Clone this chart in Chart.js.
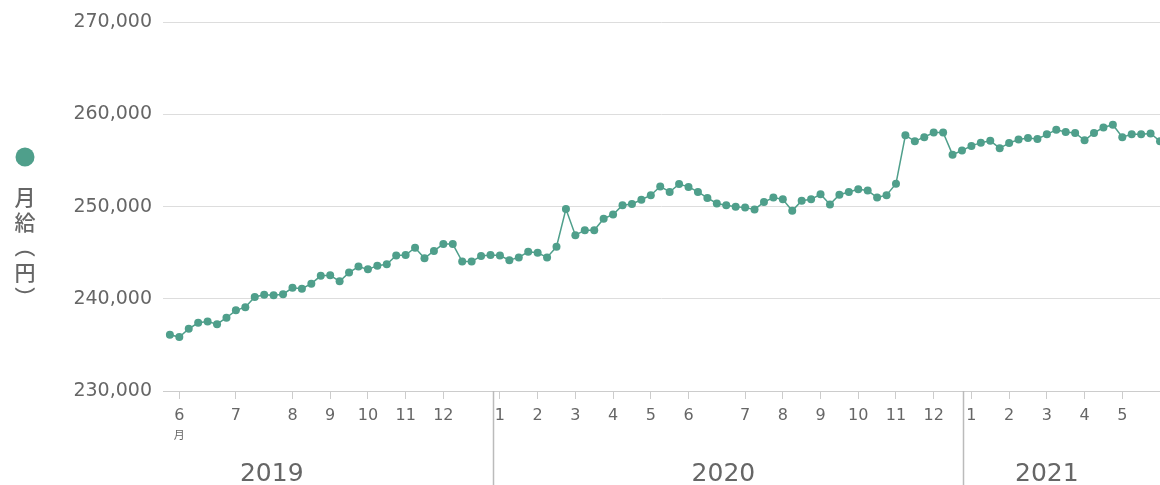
<!DOCTYPE html>
<html>
<head>
<meta charset="utf-8">
<script src="https://cdn.jsdelivr.net/npm/chart.js@4/dist/chart.umd.min.js"></script>
<style>
    html, body { margin: 0; padding: 0; background: #fff; }
    #wrap { width: 1160px; height: 485px; position: relative; }
</style>
</head>
<body>
<div id="wrap"><canvas id="salaryChart"></canvas></div>
<script>
// monthly salary (yen), one value per observation, June 2019 -> mid 2021
const salaryValues = [
    236100, 235850, 236750, 237400, 237550, 237250, 237950, 238750, 239100, 240200,
    240450, 240400, 240500, 241200, 241100, 241650, 242500, 242550, 241900, 242850,
    243500, 243200, 243600, 243750, 244700, 244750, 245550, 244400, 245200, 245950,
    245950, 244050, 244050, 244650, 244750, 244700, 244200, 244500, 245100, 245000,
    244500, 245650, 249750, 246900, 247450, 247450, 248700, 249150, 250150, 250300,
    250750, 251250, 252200, 251600, 252450, 252150, 251600, 250950, 250350, 250150,
    250000, 249900, 249700, 250500, 251000, 250800, 249550, 250650, 250800, 251350,
    250250, 251300, 251600, 251900, 251750, 251000, 251250, 252500, 257750, 257100,
    257550, 258050, 258050, 255650, 256100, 256600, 256950, 257150, 256350, 256900,
    257300, 257450, 257350, 257850, 258350, 258100, 258000, 257200, 258000, 258600,
    258900, 257550, 257850, 257850, 257950, 257100
];

// first observation of each month
const monthTickIdx = [1, 7, 13, 17, 21, 25, 29, 35, 39, 43, 47, 51, 55, 61, 65, 69, 73, 77, 81, 85, 89, 93, 97, 101];
const monthTickLabels = ['6', '7', '8', '9', '10', '11', '12', '1', '2', '3', '4', '5', '6', '7', '8', '9', '10', '11', '12', '1', '2', '3', '4', '5'];

const yearLabels = ['2019', '2020', '2021'];
const yearBoundaries = [34.3, 84.1];
const yearLabelAt = [10.8, 58.7, 93.0];

const yTickValues = [230000, 240000, 250000, 260000, 270000];

const legendText = '月給（円）';
const teal = '#4f9f8b';
const textGray = '#666';

const extrasPlugin = {
    id: 'extras',
    afterDraw(chart) {
        const ctx = chart.ctx;
        const x = chart.scales.x;
        const area = chart.chartArea;
        ctx.save();

        // year separators
        ctx.strokeStyle = '#bbb';
        ctx.lineWidth = 1.5;
        yearBoundaries.forEach(b => {
            const px = Math.round(x.getPixelForValue(b)) + 0.5;
            ctx.beginPath();
            ctx.moveTo(px, area.bottom);
            ctx.lineTo(px, chart.height);
            ctx.stroke();
        });

        // year labels
        ctx.fillStyle = textGray;
        ctx.font = '25px "DejaVu Sans"';
        ctx.textAlign = 'center';
        ctx.textBaseline = 'middle';
        yearLabels.forEach((y, i) => {
            ctx.fillText(y, x.getPixelForValue(yearLabelAt[i]), 474);
        });

        // small unit under first month
        ctx.font = '11px "Noto Sans CJK JP"';
        ctx.fillText('月', x.getPixelForValue(monthTickIdx[0]), 435);

        // legend at the left, vertical
        ctx.fillStyle = teal;
        ctx.beginPath();
        ctx.arc(25, 157, 9.5, 0, Math.PI * 2);
        ctx.fill();

        ctx.fillStyle = textGray;
        ctx.font = '500 21px "Noto Sans CJK JP"';
        [...legendText].forEach((c, i) => {
            const cy = 197 + i * 25;
            if (c === '（' || c === '）') {
                // parentheses turned for vertical writing
                ctx.save();
                ctx.translate(25, cy);
                ctx.rotate(Math.PI / 2);
                ctx.fillText(c, 0, 0);
                ctx.restore();
            } else {
                ctx.fillText(c, 25, cy);
            }
        });

        ctx.restore();
    }
};

const ctx = document.getElementById('salaryChart').getContext('2d');
new Chart(ctx, {
    type: 'line',
    data: {
        datasets: [{
            label: legendText,
            data: salaryValues.map((v, i) => ({ x: i, y: v })),
            borderColor: teal,
            backgroundColor: teal,
            pointBackgroundColor: teal,
            pointBorderWidth: 0,
            pointRadius: 4,
            borderWidth: 1.5,
            tension: 0
        }]
    },
    options: {
        responsive: true,
        maintainAspectRatio: false,
        animation: false,
        layout: {
            autoPadding: false,
            padding: { top: 22, right: 0, left: 0, bottom: 0 }
        },
        plugins: {
            legend: { display: false },
            tooltip: { enabled: false }
        },
        scales: {
            x: {
                type: 'linear',
                min: -0.73,
                max: 105,
                afterBuildTicks: scale => {
                    scale.ticks = monthTickIdx.map(v => ({ value: v }));
                },
                afterFit: scale => {
                    scale.height = 94;
                    scale.paddingRight = 0;
                    scale.paddingLeft = 0;
                },
                grid: {
                    drawOnChartArea: false,
                    drawTicks: true,
                    tickLength: 8,
                    color: '#ccc'
                },
                border: { display: true, color: '#ccc' },
                ticks: {
                    autoSkip: false,
                    maxRotation: 0,
                    padding: 7,
                    color: textGray,
                    font: { family: 'DejaVu Sans', size: 16 },
                    callback: v => {
                        const i = monthTickIdx.indexOf(v);
                        return i >= 0 ? monthTickLabels[i] : '';
                    }
                }
            },
            y: {
                min: 230000,
                max: 270000,
                afterBuildTicks: scale => {
                    scale.ticks = yTickValues.map(v => ({ value: v }));
                },
                afterFit: scale => { scale.width = 163; },
                grid: { color: '#ddd', drawTicks: false },
                border: { display: false },
                ticks: {
                    padding: 11,
                    color: textGray,
                    font: { family: 'DejaVu Sans', size: 19 },
                    callback: v => v.toLocaleString('en-US')
                }
            }
        }
    },
    plugins: [extrasPlugin]
});
</script>
</body>
</html>
